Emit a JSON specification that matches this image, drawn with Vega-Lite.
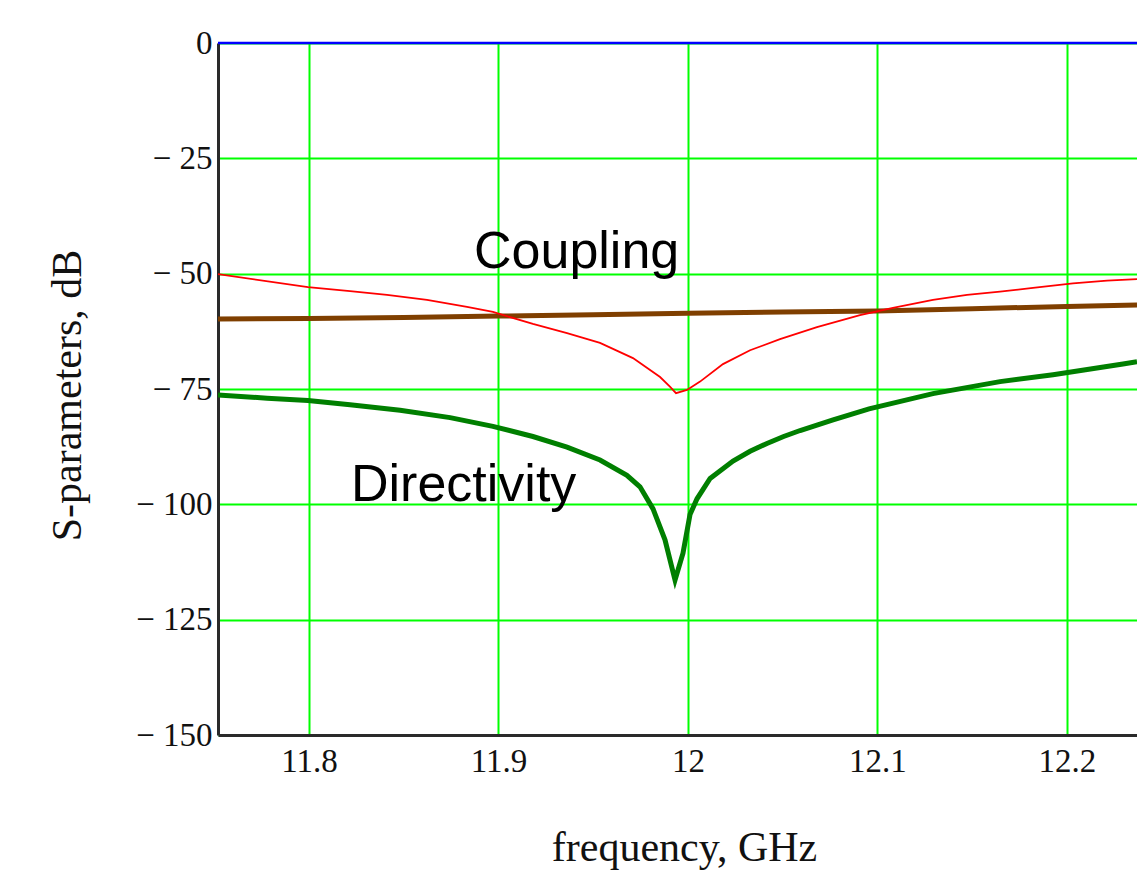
{
  "$schema": "https://vega.github.io/schema/vega-lite/v6.json",
  "width": 919,
  "height": 692,
  "autosize": {"type": "none"},
  "padding": {"left": 218, "top": 43, "right": 0, "bottom": 137},
  "background": "white",
  "config": {
    "view": {"stroke": null},
    "axis": {
      "domainColor": "#2a2a2a",
      "domainWidth": 3,
      "ticks": false,
      "tickSize": 0,
      "grid": true,
      "gridColor": "#00ff00",
      "gridWidth": 2,
      "gridOpacity": 1,
      "labelFont": "Liberation Serif",
      "labelFontSize": 33,
      "labelColor": "#111111",
      "titleFont": "Liberation Serif",
      "titleFontSize": 42,
      "titleFontWeight": "normal",
      "titleColor": "#111111",
      "labelBound": false,
      "labelOverlap": false,
      "labelFlush": false
    }
  },
  "datasets": {
    "coupling": [
      {"f": 11.752, "db": -50.1},
      {"f": 11.7995, "db": -52.9},
      {"f": 11.8217, "db": -53.8},
      {"f": 11.8412, "db": -54.6},
      {"f": 11.8623, "db": -55.7},
      {"f": 11.8834, "db": -57.2},
      {"f": 11.8971, "db": -58.3},
      {"f": 11.9182, "db": -60.9},
      {"f": 11.9362, "db": -62.9},
      {"f": 11.9536, "db": -65.0},
      {"f": 11.971, "db": -68.3},
      {"f": 11.9853, "db": -72.4},
      {"f": 11.9905, "db": -74.5},
      {"f": 11.9937, "db": -75.9},
      {"f": 11.9995, "db": -75.2},
      {"f": 12.0064, "db": -73.4},
      {"f": 12.0185, "db": -69.6},
      {"f": 12.0328, "db": -66.6},
      {"f": 12.0486, "db": -64.2},
      {"f": 12.0681, "db": -61.6},
      {"f": 12.0908, "db": -59.0},
      {"f": 12.1082, "db": -57.4},
      {"f": 12.1293, "db": -55.7},
      {"f": 12.1473, "db": -54.6},
      {"f": 12.1647, "db": -53.9},
      {"f": 12.1821, "db": -53.1},
      {"f": 12.2032, "db": -52.1},
      {"f": 12.2212, "db": -51.5},
      {"f": 12.237, "db": -51.2}
    ],
    "directivity": [
      {"f": 11.752, "db": -76.3},
      {"f": 11.7779, "db": -77.0},
      {"f": 11.7995, "db": -77.5},
      {"f": 11.8217, "db": -78.4},
      {"f": 11.8481, "db": -79.6},
      {"f": 11.8745, "db": -81.2},
      {"f": 11.8971, "db": -83.1},
      {"f": 11.9182, "db": -85.3},
      {"f": 11.9362, "db": -87.6},
      {"f": 11.9536, "db": -90.4},
      {"f": 11.9678, "db": -93.7},
      {"f": 11.9747, "db": -96.2},
      {"f": 11.9816, "db": -101.0},
      {"f": 11.9879, "db": -107.7},
      {"f": 11.9932, "db": -116.4},
      {"f": 11.9974, "db": -110.6},
      {"f": 12.0011, "db": -102.2},
      {"f": 12.0048, "db": -98.8},
      {"f": 12.0117, "db": -94.4},
      {"f": 12.0238, "db": -90.6},
      {"f": 12.0328, "db": -88.5},
      {"f": 12.0417, "db": -86.8},
      {"f": 12.0505, "db": -85.3},
      {"f": 12.0592, "db": -84.0},
      {"f": 12.0766, "db": -81.7},
      {"f": 12.0956, "db": -79.3},
      {"f": 12.1293, "db": -76.0},
      {"f": 12.1647, "db": -73.4},
      {"f": 12.1927, "db": -71.9},
      {"f": 12.2296, "db": -69.6},
      {"f": 12.237, "db": -69.1}
    ],
    "isolation": [
      {"f": 11.752, "db": -59.8},
      {"f": 11.8, "db": -59.7},
      {"f": 11.85, "db": -59.5},
      {"f": 11.9, "db": -59.2},
      {"f": 11.95, "db": -58.9},
      {"f": 12.0, "db": -58.6},
      {"f": 12.05, "db": -58.3},
      {"f": 12.1, "db": -58.1},
      {"f": 12.15, "db": -57.6},
      {"f": 12.2, "db": -57.1},
      {"f": 12.237, "db": -56.8}
    ],
    "transmission": [
      {"f": 11.752, "db": 0},
      {"f": 12.237, "db": 0}
    ],
    "labels": [
      {"f": 11.8871, "db": -48.8, "text": "Coupling"},
      {"f": 11.8222, "db": -99.3, "text": "Directivity"}
    ]
  },
  "encoding": {
    "x": {
      "field": "f",
      "type": "quantitative",
      "scale": {"domain": [11.752, 12.237], "nice": false, "zero": false},
      "axis": {
        "values": [11.8, 11.9, 12.0, 12.1, 12.2],
        "format": "~g",
        "labelPadding": 10,
        "title": "frequency, GHz",
        "titleX": 466,
        "titleY": 125,
        "titleBaseline": "alphabetic",
        "titleAnchor": "start",
        "titleAlign": "center"
      }
    },
    "y": {
      "field": "db",
      "type": "quantitative",
      "scale": {"domain": [-150, 0], "nice": false, "zero": false},
      "axis": {
        "values": [-150, -125, -100, -75, -50, -25, 0],
        "labelExpr": "datum.value < 0 ? '− ' + (-datum.value) : '0'",
        "labelPadding": 6,
        "title": "S-parameters, dB",
        "titleX": -138,
        "titleY": 352,
        "titleAngle": -90,
        "titleAlign": "center",
        "titleBaseline": "alphabetic",
        "titleAnchor": "start"
      }
    }
  },
  "layer": [
    {"data": {"name": "isolation"}, "mark": {"type": "line", "color": "#7f3f00", "strokeWidth": 5, "clip": true}},
    {"data": {"name": "directivity"}, "mark": {"type": "line", "color": "#007f00", "strokeWidth": 5, "clip": true}},
    {"data": {"name": "transmission"}, "mark": {"type": "line", "color": "#0000ff", "strokeWidth": 2.5, "clip": false}},
    {"data": {"name": "coupling"}, "mark": {"type": "line", "color": "#ff0000", "strokeWidth": 1.8, "clip": true}},
    {
      "data": {"name": "labels"},
      "mark": {"type": "text", "font": "Liberation Sans", "fontSize": 52, "align": "left", "baseline": "alphabetic", "color": "#000000"},
      "encoding": {"text": {"field": "text", "type": "nominal"}}
    }
  ]
}
